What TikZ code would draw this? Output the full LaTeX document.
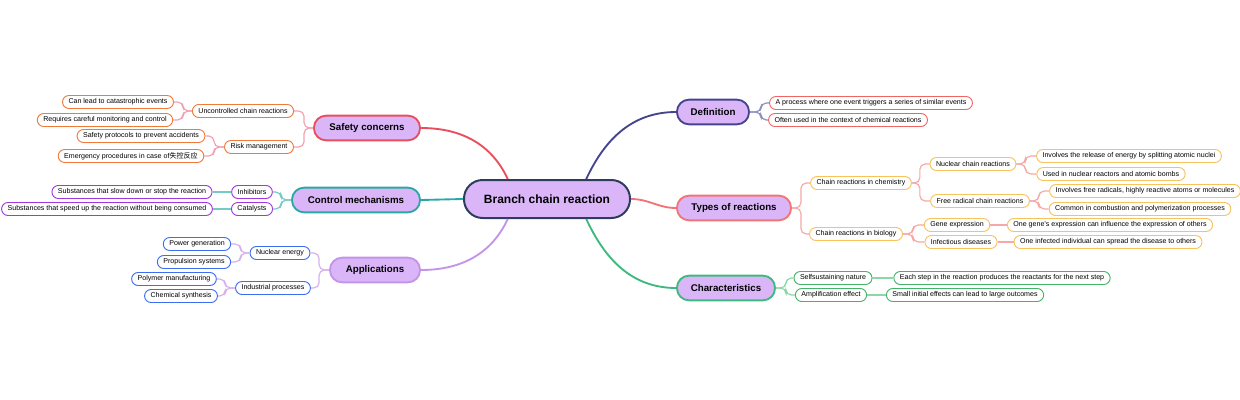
\documentclass[tikz,border=0pt]{standalone}
\usepackage{fontspec}
\setmainfont{Liberation Sans}
\newfontfamily\cjk{Noto Sans CJK SC}
\usepackage{xcolor}
\usepackage{tikz}
\definecolor{lav}{HTML}{DAB6F8}
\definecolor{rootline}{HTML}{2E3D5C}
\definecolor{defc}{HTML}{45448E}
\definecolor{typc}{HTML}{F27474}
\definecolor{chac}{HTML}{3FB87E}
\definecolor{safc}{HTML}{E84E5C}
\definecolor{ctlc}{HTML}{2BA7A6}
\definecolor{appc}{HTML}{C394E8}
\definecolor{defl}{HTML}{8C90BE}
\definecolor{typl}{HTML}{F6A8A8}
\definecolor{chal}{HTML}{8ED6A8}
\definecolor{safl}{HTML}{F0A2B2}
\definecolor{ctll}{HTML}{74CBC2}
\definecolor{appl}{HTML}{D6B2EC}
\definecolor{defk}{HTML}{F06464}
\definecolor{typk}{HTML}{F6C35E}
\definecolor{chak}{HTML}{45B468}
\definecolor{safk}{HTML}{F07A3A}
\definecolor{ctlk}{HTML}{A236E0}
\definecolor{appk}{HTML}{3C6EF0}
\tikzset{
  rootbox/.style={draw=rootline, fill=lav, line width=1.5pt, rounded corners=14pt,
    minimum height=28.5pt, minimum width=124.5pt, font=\fontsize{9}{11}\selectfont\bfseries},
  topic/.style={draw=#1, fill=lav, line width=1.4pt, rounded corners=9pt,
    minimum height=18.5pt, font=\fontsize{7.3}{9}\selectfont\bfseries},
  leaf/.style={draw=#1, fill=white, line width=0.7pt, rounded corners=4.8pt,
    minimum height=9.75pt, inner xsep=4.5pt, inner ysep=0pt, font=\fontsize{5.3}{6}\selectfont},
  main/.style={draw=#1, line width=1.4pt},
  branch/.style={draw=#1, line width=0.9pt, rounded corners=4pt},
}

\begin{document}
\begin{tikzpicture}[x=0.75pt, y=-0.75pt]
  \useasboundingbox (0,0) rectangle (1240,400);
  % centre and main topics
  \node[rootbox] (root) at (547,199) {Branch chain reaction};
  \node[topic=defc, minimum width=54pt] (def) at (713,112) {Definition};
  \node[topic=typc, minimum width=85.5pt] (typ) at (734,208) {Types of reactions};
  \node[topic=chac, minimum width=73.5pt] (cha) at (726,288) {Characteristics};
  \node[topic=safc, minimum width=79.5pt] (saf) at (367,128) {Safety concerns};
  \node[topic=ctlc, minimum width=96pt] (ctl) at (356,200) {Control mechanisms};
  \node[topic=appc, minimum width=67.5pt] (app) at (375,270) {Applications};
  \draw[main=defc] (root.27) to[out=65,in=180] (def.west);
  \draw[main=typc] (root.east) to[out=0,in=180] (typ.west);
  \draw[main=chac] (root.-27) to[out=-65,in=180] (cha.west);
  \draw[main=safc] (root.153) to[out=115,in=0] (saf.east);
  \draw[main=ctlc] (root.west) -- (ctl.east);
  \draw[main=appc] (root.-153) to[out=-115,in=0] (app.east);

  % definition
  \node[leaf=defk] (d1) at (871,103) {A process where one event triggers a series of similar events};
  \node[leaf=defk] (d2) at (848,120) {Often used in the context of chemical reactions};
  \foreach \n in {d1,d2}
    \draw[branch=defl] (def.east) -- ++(11,0) |- (\n.west);

  % types of reactions
  \node[leaf=typk] (chem) at (861,183) {Chain reactions in chemistry};
  \node[leaf=typk] (bio) at (856,234) {Chain reactions in biology};
  \node[leaf=typk] (nuc) at (973,164) {Nuclear chain reactions};
  \node[leaf=typk] (rad) at (980,201) {Free radical chain reactions};
  \node[leaf=typk] (n1) at (1129,156) {Involves the release of energy by splitting atomic nuclei};
  \node[leaf=typk] (n2) at (1111,174) {Used in nuclear reactors and atomic bombs};
  \node[leaf=typk] (r1) at (1145,191) {Involves free radicals, highly reactive atoms or molecules};
  \node[leaf=typk] (r2) at (1140,209) {Common in combustion and polymerization processes};
  \node[leaf=typk] (gene) at (957,225) {Gene expression};
  \node[leaf=typk] (inf) at (961,242) {Infectious diseases};
  \node[leaf=typk] (g1) at (1110,225) {One gene's expression can influence the expression of others};
  \node[leaf=typk] (i1) at (1108,242) {One infected individual can spread the disease to others};
  \foreach \n in {chem,bio}
    \draw[branch=typl] (typ.east) -- ++(9,0) |- (\n.west);
  \foreach \n in {nuc,rad}
    \draw[branch=typl] (chem.east) -- ++(8,0) |- (\n.west);
  \foreach \n in {n1,n2}
    \draw[branch=typl] (nuc.east) -- ++(9,0) |- (\n.west);
  \foreach \n in {r1,r2}
    \draw[branch=typl] (rad.east) -- ++(9,0) |- (\n.west);
  \foreach \n in {gene,inf}
    \draw[branch=typl] (bio.east) -- ++(10,0) |- (\n.west);
  \draw[branch=typl] (gene.east) -- (g1.west);
  \draw[branch=typl] (inf.east) -- (i1.west);

  % characteristics
  \node[leaf=chak] (self) at (833,278) {Selfsustaining nature};
  \node[leaf=chak] (amp) at (831,295) {Amplification effect};
  \node[leaf=chak] (s1) at (1002,278) {Each step in the reaction produces the reactants for the next step};
  \node[leaf=chak] (a1) at (965,295) {Small initial effects can lead to large outcomes};
  \foreach \n in {self,amp}
    \draw[branch=chal] (cha.east) -- ++(10,0) |- (\n.west);
  \draw[branch=chal] (self.east) -- (s1.west);
  \draw[branch=chal] (amp.east) -- (a1.west);

  % safety concerns
  \node[leaf=safk] (unc) at (243,111) {Uncontrolled chain reactions};
  \node[leaf=safk] (risk) at (259,147) {Risk management};
  \node[leaf=safk] (u1) at (118,102) {Can lead to catastrophic events};
  \node[leaf=safk] (u2) at (105,120) {Requires careful monitoring and control};
  \node[leaf=safk] (k1) at (141,136) {Safety protocols to prevent accidents};
  \node[leaf=safk] (k2) at (131,156) {Emergency procedures in case of{\cjk 失控反应}};
  \foreach \n in {unc,risk}
    \draw[branch=safl] (saf.west) -- ++(-9,0) |- (\n.east);
  \foreach \n in {u1,u2}
    \draw[branch=safl] (unc.west) -- ++(-9,0) |- (\n.east);
  \foreach \n in {k1,k2}
    \draw[branch=safl] (risk.west) -- ++(-10,0) |- (\n.east);

  % control mechanisms
  \node[leaf=ctlk] (inh) at (252,192) {Inhibitors};
  \node[leaf=ctlk] (cat) at (252,209) {Catalysts};
  \node[leaf=ctlk] (h1) at (132,192) {Substances that slow down or stop the reaction};
  \node[leaf=ctlk] (c1) at (107,209) {Substances that speed up the reaction without being consumed};
  \foreach \n in {inh,cat}
    \draw[branch=ctll] (ctl.west) -- ++(-10,0) |- (\n.east);
  \draw[branch=ctll] (inh.west) -- (h1.east);
  \draw[branch=ctll] (cat.west) -- (c1.east);

  % applications
  \node[leaf=appk] (nen) at (280,253) {Nuclear energy};
  \node[leaf=appk] (ind) at (273,288) {Industrial processes};
  \node[leaf=appk] (p1) at (197,244) {Power generation};
  \node[leaf=appk] (p2) at (194,262) {Propulsion systems};
  \node[leaf=appk] (m1) at (174,279) {Polymer manufacturing};
  \node[leaf=appk] (m2) at (181,296) {Chemical synthesis};
  \foreach \n in {nen,ind}
    \draw[branch=appl] (app.west) -- ++(-10,0) |- (\n.east);
  \foreach \n in {p1,p2}
    \draw[branch=appl] (nen.west) -- ++(-9,0) |- (\n.east);
  \foreach \n in {m1,m2}
    \draw[branch=appl] (ind.west) -- ++(-10,0) |- (\n.east);
\end{tikzpicture}
\end{document}
